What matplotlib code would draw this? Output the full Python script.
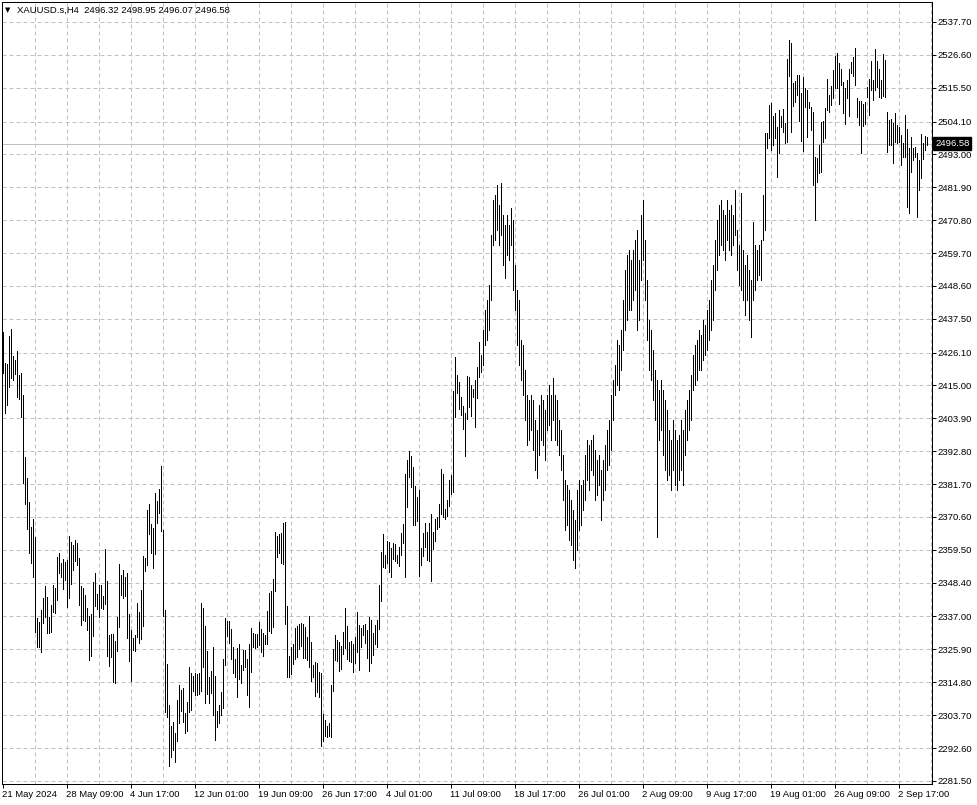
import matplotlib
matplotlib.use("Agg")
import matplotlib.pyplot as plt
import matplotlib.transforms as mtransforms

plt.rcParams["font.family"] = ["Liberation Sans", "DejaVu Sans"]

symbol_text = "XAUUSD.s,H4  2496.32 2498.95 2496.07 2496.58"
last_close = 2496.58

highs = [
    2433.0, 2422.6, 2422.2, 2431.7, 2434.1, 2424.9, 2423.6, 2426.6, 2418.5, 2419.2,
    2411.8, 2390.9, 2383.8, 2375.7, 2367.2, 2369.9, 2363.9, 2336.5, 2335.2, 2339.2,
    2343.3, 2347.3, 2343.6, 2336.8, 2340.9, 2347.6, 2346.6, 2357.1, 2358.4, 2355.0,
    2356.4, 2355.4, 2356.1, 2364.2, 2362.2, 2361.1, 2362.8, 2361.8, 2356.7, 2347.3,
    2346.6, 2344.3, 2339.9, 2337.2, 2337.9, 2348.6, 2351.7, 2344.6, 2347.6, 2347.6,
    2343.9, 2359.8, 2349.0, 2330.8, 2331.1, 2331.1, 2328.7, 2336.8, 2354.7, 2351.0,
    2352.7, 2350.3, 2351.7, 2337.9, 2332.4, 2329.7, 2330.8, 2341.6, 2338.5, 2346.0,
    2357.4, 2356.7, 2373.0, 2375.0, 2368.2, 2366.9, 2378.7, 2376.0, 2380.0, 2387.8,
    2366.2, 2339.2, 2321.0, 2307.1, 2300.0, 2301.4, 2297.7, 2308.8, 2313.9, 2312.2,
    2312.9, 2304.4, 2308.1, 2320.0, 2317.9, 2316.9, 2317.9, 2317.6, 2317.9, 2341.6,
    2339.9, 2333.8, 2325.4, 2316.6, 2318.6, 2326.7, 2316.9, 2305.1, 2307.1, 2311.5,
    2322.7, 2336.5, 2335.5, 2335.5, 2332.8, 2326.7, 2322.7, 2326.4, 2327.7, 2320.6,
    2325.7, 2325.7, 2322.7, 2327.7, 2333.1, 2331.4, 2331.1, 2331.1, 2335.2, 2332.8,
    2331.4, 2330.8, 2338.9, 2344.9, 2345.6, 2349.7, 2365.5, 2364.2, 2364.9, 2365.2,
    2368.6, 2368.9, 2340.6, 2323.7, 2326.7, 2327.7, 2333.1, 2333.8, 2334.5, 2334.8,
    2334.5, 2333.4, 2330.1, 2337.2, 2328.4, 2320.6, 2321.6, 2321.3, 2318.3, 2317.9,
    2304.1, 2302.1, 2300.0, 2301.0, 2313.9, 2326.0, 2330.8, 2329.1, 2328.4, 2327.1,
    2331.8, 2339.9, 2333.8, 2328.4, 2328.7, 2327.7, 2330.1, 2338.5, 2334.1, 2333.1,
    2334.1, 2334.5, 2332.4, 2336.8, 2335.8, 2331.4, 2334.1, 2335.8, 2347.6, 2358.8,
    2364.9, 2357.8, 2362.5, 2362.2, 2360.1, 2361.8, 2361.5, 2357.8, 2360.5, 2365.2,
    2368.2, 2385.1, 2389.8, 2392.9, 2391.2, 2387.5, 2381.1, 2377.3, 2379.7, 2360.1,
    2365.2, 2368.6, 2365.5, 2368.6, 2371.6, 2365.5, 2369.9, 2370.6, 2375.0, 2386.8,
    2385.1, 2373.3, 2376.3, 2383.1, 2384.8, 2413.1, 2424.6, 2418.5, 2416.2, 2411.1,
    2408.1, 2405.7, 2418.2, 2417.9, 2415.2, 2413.8, 2416.8, 2421.2, 2429.7, 2425.3,
    2433.7, 2440.5, 2443.9, 2448.9, 2465.8, 2477.6, 2479.3, 2482.7, 2475.9, 2483.4,
    2472.5, 2469.2, 2472.5, 2469.2, 2474.9, 2470.9, 2455.7, 2447.2, 2443.9, 2430.4,
    2428.6, 2420.2, 2411.8, 2410.1, 2411.8, 2410.1, 2403.3, 2400.0, 2408.4, 2411.8,
    2410.1, 2406.7, 2411.8, 2415.2, 2411.8, 2417.5, 2411.8, 2410.1, 2403.3, 2400.0,
    2391.5, 2383.1, 2381.4, 2379.7, 2376.3, 2373.0, 2369.6, 2379.7, 2383.1, 2381.4,
    2383.1, 2391.5, 2396.6, 2394.9, 2396.6, 2398.3, 2393.2, 2389.8, 2391.5, 2386.5,
    2389.8, 2394.9, 2400.0, 2403.3, 2411.8, 2416.8, 2421.9, 2430.4, 2428.6, 2433.7,
    2443.9, 2454.0, 2459.0, 2460.7, 2457.4, 2460.7, 2464.1, 2467.5, 2457.4, 2472.5,
    2477.6, 2464.1, 2450.6, 2437.1, 2433.7, 2427.0, 2420.2, 2416.8, 2413.5, 2416.8,
    2413.5, 2410.1, 2406.7, 2400.0, 2396.6, 2403.3, 2400.0, 2396.6, 2398.3, 2403.3,
    2400.0, 2406.7, 2410.1, 2413.5, 2418.5, 2425.3, 2428.6, 2430.4, 2433.7, 2432.0,
    2437.1, 2435.4, 2440.5, 2443.9, 2450.6, 2455.7, 2464.1, 2470.9, 2475.9, 2477.6,
    2474.2, 2472.5, 2477.6, 2474.2, 2475.9, 2472.5, 2481.0, 2467.5, 2462.4, 2479.9,
    2460.7, 2455.7, 2459.0, 2454.0, 2450.6, 2470.2, 2462.4, 2460.7, 2462.4, 2464.1,
    2479.3, 2500.2, 2500.2, 2509.7, 2510.4, 2506.0, 2507.0, 2502.3, 2508.0, 2506.0,
    2508.3, 2503.6, 2525.2, 2531.6, 2530.6, 2517.1, 2517.8, 2519.8, 2519.8, 2513.7,
    2519.1, 2515.4, 2514.7, 2510.7, 2509.0, 2507.3, 2492.1, 2491.8, 2496.2, 2503.9,
    2504.3, 2508.7, 2518.5, 2513.1, 2516.1, 2521.5, 2526.2, 2527.2, 2523.9, 2521.8,
    2517.5, 2515.4, 2518.1, 2521.8, 2524.2, 2525.9, 2528.9, 2512.0, 2511.0, 2511.0,
    2510.0, 2510.7, 2515.8, 2518.5, 2524.5, 2518.1, 2528.6, 2524.5, 2521.8, 2518.1,
    2526.9, 2524.9, 2507.3, 2504.6, 2504.9, 2503.6, 2507.0, 2502.9, 2502.3, 2499.6,
    2496.9, 2506.3, 2501.6, 2495.2, 2498.9, 2495.2, 2495.5, 2493.5, 2491.1, 2499.9,
    2496.9, 2499.2, 2498.95,
]

lows = [
    2419.2, 2405.7, 2408.4, 2414.5, 2417.5, 2416.8, 2418.9, 2411.1, 2410.4, 2404.3,
    2382.1, 2375.0, 2366.5, 2358.4, 2355.0, 2350.3, 2331.8, 2326.7, 2326.7, 2325.0,
    2334.8, 2336.8, 2331.4, 2331.4, 2331.8, 2338.5, 2338.2, 2342.6, 2351.7, 2350.3,
    2346.3, 2349.3, 2340.2, 2343.3, 2348.0, 2352.7, 2355.7, 2354.4, 2340.9, 2334.1,
    2335.8, 2335.5, 2332.4, 2322.3, 2323.7, 2330.4, 2340.6, 2339.5, 2336.8, 2339.9,
    2339.5, 2341.2, 2323.7, 2320.3, 2323.3, 2314.9, 2314.5, 2325.4, 2333.4, 2344.3,
    2343.3, 2343.9, 2329.7, 2322.0, 2315.2, 2325.7, 2325.4, 2330.1, 2328.0, 2329.4,
    2333.8, 2352.4, 2354.4, 2364.9, 2358.4, 2353.4, 2358.1, 2368.6, 2371.9, 2365.9,
    2337.2, 2304.8, 2303.1, 2286.5, 2289.6, 2291.9, 2287.9, 2295.0, 2301.0, 2305.1,
    2301.4, 2297.7, 2298.3, 2304.8, 2305.4, 2311.9, 2310.5, 2310.5, 2310.8, 2311.9,
    2320.0, 2307.8, 2310.8, 2307.8, 2311.2, 2303.8, 2295.3, 2299.7, 2301.0, 2303.8,
    2306.1, 2320.6, 2330.4, 2328.0, 2322.7, 2317.9, 2316.6, 2309.8, 2315.9, 2314.5,
    2318.9, 2320.0, 2310.5, 2306.4, 2318.3, 2326.7, 2326.4, 2326.7, 2327.4, 2325.0,
    2323.7, 2327.7, 2327.7, 2332.1, 2331.4, 2333.4, 2345.6, 2357.1, 2358.4, 2355.0,
    2354.7, 2334.5, 2316.6, 2316.6, 2317.6, 2321.0, 2322.7, 2323.3, 2326.0, 2327.1,
    2323.0, 2323.0, 2322.3, 2320.0, 2315.2, 2316.6, 2310.2, 2311.5, 2309.8, 2293.3,
    2295.0, 2296.6, 2296.3, 2296.6, 2296.3, 2311.9, 2322.3, 2322.0, 2318.6, 2319.3,
    2324.4, 2326.4, 2322.7, 2322.0, 2321.6, 2318.3, 2321.3, 2325.0, 2318.9, 2326.7,
    2330.8, 2328.0, 2323.0, 2318.6, 2321.3, 2324.0, 2327.7, 2326.7, 2332.8, 2342.2,
    2353.7, 2353.4, 2355.0, 2352.0, 2350.3, 2356.4, 2355.7, 2355.0, 2354.1, 2357.8,
    2361.8, 2350.3, 2374.0, 2384.1, 2380.7, 2367.9, 2367.9, 2369.2, 2350.7, 2354.4,
    2357.4, 2360.5, 2356.1, 2355.7, 2349.0, 2359.8, 2362.5, 2366.5, 2367.2, 2371.6,
    2370.6, 2369.9, 2370.9, 2374.3, 2378.4, 2379.0, 2404.3, 2412.4, 2407.0, 2405.0,
    2400.3, 2391.2, 2403.7, 2407.7, 2404.7, 2411.1, 2401.0, 2410.8, 2417.9, 2419.5,
    2421.9, 2428.6, 2430.4, 2433.7, 2443.9, 2462.4, 2464.1, 2467.5, 2462.4, 2465.8,
    2455.7, 2451.3, 2459.0, 2457.4, 2462.4, 2447.2, 2440.5, 2428.6, 2421.9, 2416.8,
    2411.8, 2403.3, 2394.9, 2396.6, 2400.0, 2393.2, 2386.5, 2383.8, 2391.5, 2396.6,
    2394.9, 2389.8, 2400.0, 2401.7, 2396.6, 2403.3, 2396.6, 2394.9, 2391.5, 2386.5,
    2376.3, 2366.2, 2367.9, 2362.8, 2361.1, 2356.1, 2353.4, 2359.5, 2366.2, 2367.9,
    2373.0, 2376.3, 2383.1, 2379.7, 2386.5, 2384.8, 2376.3, 2378.0, 2381.4, 2369.6,
    2376.3, 2379.7, 2386.5, 2388.1, 2393.2, 2403.3, 2411.8, 2415.2, 2413.5, 2420.2,
    2427.0, 2433.7, 2437.1, 2440.5, 2440.5, 2443.9, 2447.2, 2433.7, 2437.1, 2450.6,
    2457.4, 2443.9, 2430.4, 2420.2, 2416.8, 2410.1, 2403.3, 2363.8, 2396.6, 2400.0,
    2391.5, 2386.5, 2383.1, 2384.8, 2379.7, 2386.5, 2381.4, 2379.7, 2383.1, 2386.5,
    2381.4, 2391.5, 2396.6, 2400.0, 2403.3, 2413.5, 2415.2, 2416.8, 2420.2, 2420.2,
    2423.6, 2425.3, 2427.0, 2430.4, 2433.7, 2437.1, 2447.2, 2454.0, 2459.0, 2462.4,
    2460.7, 2457.4, 2464.1, 2460.7, 2459.0, 2462.4, 2465.8, 2454.0, 2448.9, 2447.2,
    2443.9, 2438.8, 2443.9, 2437.1, 2431.4, 2443.9, 2447.2, 2450.6, 2452.3, 2450.6,
    2464.1, 2467.5, 2495.2, 2498.5, 2494.5, 2496.2, 2498.5, 2485.4, 2493.5, 2502.3,
    2500.6, 2496.9, 2497.2, 2519.5, 2500.6, 2509.3, 2510.7, 2513.1, 2504.3, 2497.5,
    2494.2, 2509.0, 2498.9, 2508.7, 2501.2, 2482.7, 2470.9, 2483.7, 2486.7, 2487.1,
    2497.2, 2498.5, 2508.0, 2507.3, 2509.7, 2512.0, 2515.4, 2515.4, 2510.0, 2516.4,
    2507.0, 2503.3, 2512.0, 2506.0, 2520.5, 2519.5, 2516.4, 2505.6, 2502.9, 2493.5,
    2502.6, 2503.3, 2512.4, 2506.3, 2514.7, 2511.4, 2514.7, 2515.8, 2512.4, 2512.0,
    2512.7, 2512.4, 2493.8, 2496.2, 2496.2, 2490.1, 2497.2, 2496.9, 2497.2, 2489.4,
    2492.1, 2492.1, 2475.2, 2473.2, 2487.1, 2491.1, 2492.1, 2471.9, 2481.0, 2485.0,
    2491.5, 2494.5, 2496.07,
]

x_tick_bars = [0, 32, 64, 96, 128, 160, 192, 224, 256, 288, 320, 352, 384, 416, 448]
x_tick_labels = ["21 May 2024", "28 May 09:00", "4 Jun 17:00", "12 Jun 01:00",
                 "19 Jun 09:00", "26 Jun 17:00", "4 Jul 01:00", "11 Jul 09:00",
                 "18 Jul 17:00", "26 Jul 01:00", "2 Aug 09:00", "9 Aug 17:00",
                 "19 Aug 01:00", "26 Aug 09:00", "2 Sep 17:00"]
y_ticks = [2537.70, 2526.60, 2515.50, 2504.10, 2493.00, 2481.90, 2470.80, 2459.70,
           2448.60, 2437.50, 2426.10, 2415.00, 2403.90, 2392.80, 2381.70, 2370.60,
           2359.50, 2348.40, 2337.00, 2325.90, 2314.80, 2303.70, 2292.60, 2281.50]

FS = 6.8
W, H = 978, 805
fig = plt.figure(figsize=(W / 100, H / 100), dpi=100)
fig.patch.set_facecolor("white")
ax_l, ax_r, ax_t, ax_b = 2, 932, 2, 784
ax = fig.add_axes([ax_l / W, 1 - ax_b / H, (ax_r - ax_l) / W, (ax_b - ax_t) / H])
ax.set_facecolor("white")

px = 0.72  # one pixel in points
n = len(highs)
xs = list(range(n))

grid_kw = dict(color="#C0C0C0", lw=px, linestyle=(0, (4, 3)), zorder=0)
for yv in y_ticks:
    ax.axhline(yv, **grid_kw)
for k in range(16, n + 2, 16):
    ax.axvline(k, **grid_kw)

ax.axhline(last_close, color="#C0C0C0", lw=px, zorder=1)

ax.vlines(xs, lows, highs, colors="black", linewidth=px, antialiased=False, zorder=3)

ax.set_xlim(-0.5, -0.5 + (ax_r - ax_l) / 2)
ax.set_ylim(2280.45, 2544.45)

for s in ax.spines.values():
    s.set_color("black")
    s.set_linewidth(px)

ax.yaxis.tick_right()
ax.set_yticks(y_ticks)
ax.set_yticklabels([f"{v:.2f}" for v in y_ticks])
ax.tick_params(axis="y", direction="out", length=3, width=px, pad=1,
               labelsize=FS, colors="black")
ax.set_xticks(x_tick_bars)
ax.set_xticklabels(x_tick_labels)
ax.tick_params(axis="x", direction="out", length=3, width=px, pad=1.5,
               labelsize=FS, colors="black")

offset = mtransforms.ScaledTranslation(-1.0 / 100, 0, fig.dpi_scale_trans)
for lab in ax.get_xticklabels():
    lab.set_horizontalalignment("left")
    lab.set_transform(lab.get_transform() + offset)

trans = mtransforms.blended_transform_factory(ax.transAxes, ax.transData)
ax.text(1.0 + 3 / (ax_r - ax_l), last_close, f"{last_close:.2f}", transform=trans,
        ha="left", va="center", fontsize=FS, color="white", zorder=5,
        bbox=dict(boxstyle="square,pad=0.22", facecolor="black", edgecolor="black"))

fig.text(5 / W, 1 - 10 / H, "\u25BC", fontsize=5, ha="left", va="center",
         color="black", family="DejaVu Sans")
fig.text(17 / W, 1 - 10 / H, symbol_text, fontsize=FS, ha="left", va="center", color="black")

fig.savefig("out.png", dpi=100, facecolor="white")
